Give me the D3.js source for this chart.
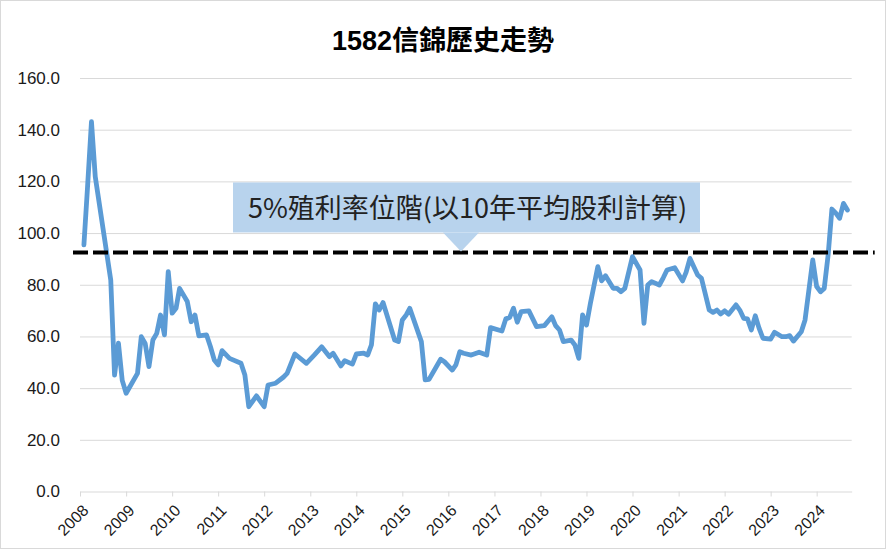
<!DOCTYPE html>
<html>
<head>
<meta charset="utf-8">
<script src="https://cdn.jsdelivr.net/npm/d3@7"></script>
<style>
  body { margin: 0; background: #fff; }
  svg { display: block; }
</style>
</head>
<body>
<svg id="chart" width="888" height="550"></svg>
<script>
// price history, month-level dates
const dates = [
  "2008-02","2008-03","2008-04","2008-05","2008-09","2008-10","2008-11","2008-12",
  "2009-01","2009-04","2009-05","2009-06","2009-07","2009-08","2009-09","2009-10","2009-11","2009-12",
  "2010-01","2010-02","2010-03","2010-05","2010-06","2010-07","2010-08","2010-10","2010-11","2010-12",
  "2011-01","2011-02","2011-04","2011-07","2011-08","2011-09","2011-11",
  "2012-01","2012-02","2012-04","2012-06","2012-07","2012-09","2012-12",
  "2013-02","2013-04","2013-06","2013-07","2013-09","2013-10","2013-12",
  "2014-01","2014-03","2014-04","2014-05","2014-06","2014-07","2014-08","2014-11","2014-12",
  "2015-01","2015-02","2015-03","2015-06","2015-07","2015-08","2015-11","2015-12",
  "2016-02","2016-03","2016-04","2016-05","2016-07","2016-09","2016-11","2016-12",
  "2017-03","2017-04","2017-05","2017-06","2017-07","2017-08","2017-10","2017-12",
  "2018-02","2018-04","2018-05","2018-06","2018-07","2018-09","2018-10","2018-11","2018-12",
  "2019-01","2019-02","2019-04","2019-05","2019-06","2019-08","2019-09","2019-10","2019-11",
  "2020-01","2020-03","2020-04","2020-05","2020-06","2020-08","2020-09","2020-10","2020-12",
  "2021-02","2021-03","2021-04","2021-06","2021-07","2021-09","2021-10","2021-11","2021-12",
  "2022-01","2022-02","2022-04","2022-05","2022-06","2022-07","2022-08","2022-09","2022-10","2022-11",
  "2023-01","2023-02","2023-04","2023-05","2023-06","2023-07","2023-09","2023-10","2023-12",
  "2024-01","2024-02","2024-03","2024-04","2024-05","2024-06","2024-07","2024-08","2024-09"
];
const prices = [
  95.4,118,143.1,121.8,81.8,45,57.4,43,
  38,45.7,59.9,57.3,48.3,58.6,61.2,68.3,60.6,85.1,
  69,70.9,78.6,73.5,65.7,68.3,60.2,60.6,56,50.9,
  49,54.5,51.5,49.6,45.1,32.8,37,
  32.8,41.2,41.9,44.2,45.7,53.2,49.6,
  52.8,56,52.2,53.5,48.6,50.6,49.3,
  53.2,53.5,52.8,56.7,72.6,70.2,73.1,58.6,58,
  66.4,68.3,70.9,58,43.2,43.4,51.2,50.2,
  47,49,54.1,53.5,52.8,53.9,52.8,63.4,
  62.1,66.8,67.3,70.9,65.5,69.6,69.9,63.8,
  64.2,67.6,64.2,62.5,58,58.6,56.7,51.5,68.3,
  64.4,72.8,87,81.5,83.5,78.6,78.6,77.3,78.6,
  90.9,85.7,65.1,79.9,81.2,79.9,82.7,85.7,86.6,
  81.5,84.8,90.2,83.8,82.5,70.2,69.3,70.2,68.7,
  69.9,68.6,72.2,70.2,67,66.8,62.5,68,63.2,59.3,
  59,61.6,59.9,59.9,60.3,58.2,61.8,66.4,89.6,
  79.3,77.3,78.6,91.5,109.3,107.7,105.7,111.5,108.9
];
const yTicks = [0, 20, 40, 60, 80, 100, 120, 140, 160];
const yieldLevel = 92.5;   // 5% yield price level
const title = "1582信錦歷史走勢";
const noteText = "5%殖利率位階(以10年平均股利計算)";

const parseMonth = d3.timeParse("%Y-%m");
const series = dates.map((d, i) => ({ date: parseMonth(d), value: prices[i] }));

const svg = d3.select("#chart");
const W = 888, H = 550;
const plotLeft = 80, plotRight = 851.7, plotTop = 78, plotBottom = 491.5;

const x = d3.scaleTime()
  .domain([new Date(2008, 0, 1), new Date(2024, 9, 5)])
  .range([plotLeft, plotRight]);
const y = d3.scaleLinear().domain([0, 160]).range([plotBottom, plotTop]);

const font = "'Liberation Sans', Arial, 'Noto Sans CJK TC', sans-serif";

// outer frame
svg.append("rect")
  .attr("x", 0.5).attr("y", 0.5)
  .attr("width", W - 3).attr("height", H - 2)
  .attr("fill", "#fff").attr("stroke", "#d9d9d9");

// title
svg.append("text")
  .attr("x", 443).attr("y", 50)
  .attr("text-anchor", "middle")
  .attr("font-family", font)
  .attr("font-weight", "bold")
  .attr("font-size", 27)
  .attr("fill", "#000")
  .text(title);

// gridlines
svg.append("g")
  .attr("transform", `translate(${plotLeft},0)`)
  .call(d3.axisLeft(y).tickValues(yTicks.slice(1)).tickSize(-(plotRight - plotLeft)).tickFormat(""))
  .call(g => g.select(".domain").remove())
  .call(g => g.selectAll("line").attr("stroke", "#d9d9d9"));

// y labels
svg.append("g")
  .attr("transform", `translate(${plotLeft},0)`)
  .call(d3.axisLeft(y).tickValues(yTicks).tickSize(0).tickPadding(20).tickFormat(d3.format(".1f")))
  .call(g => g.select(".domain").remove())
  .call(g => g.selectAll("text")
    .attr("font-family", font).attr("font-size", 17).attr("fill", "#1a1a1a"));

// x axis
const xAxis = svg.append("g")
  .attr("transform", `translate(0,${plotBottom})`)
  .call(d3.axisBottom(x).ticks(d3.timeYear.every(1)).tickFormat(d3.timeFormat("%Y")).tickSize(5).tickSizeOuter(0));
xAxis.select(".domain").attr("stroke", "#d9d9d9");
xAxis.selectAll("line").attr("stroke", "#d9d9d9");
xAxis.selectAll("text")
  .attr("font-family", font).attr("font-size", 16).attr("fill", "#1a1a1a")
  .attr("text-anchor", "end")
  .attr("x", 0).attr("y", 0).attr("dy", "0.35em")
  .attr("transform", "translate(5,16) rotate(-45)");

// price line
const line = d3.line().x(d => x(d.date)).y(d => y(d.value));
svg.append("path")
  .datum(series)
  .attr("d", line)
  .attr("fill", "none")
  .attr("stroke", "#5b9bd5")
  .attr("stroke-width", 4.8)
  .attr("stroke-linejoin", "round")
  .attr("stroke-linecap", "round");

// yield level dashed line
const yl = y(yieldLevel);
svg.append("line")
  .attr("x1", plotLeft - 7).attr("x2", plotRight + 23)
  .attr("y1", yl).attr("y2", yl)
  .attr("stroke", "#000")
  .attr("stroke-width", 4)
  .attr("stroke-dasharray", "15,5");

// callout box with arrow
const boxX = 233, boxW = 467, boxBottom = yl - 20, boxTop = boxBottom - 50;
const arrowX = 461;
svg.append("rect")
  .attr("x", boxX).attr("y", boxTop)
  .attr("width", boxW).attr("height", boxBottom - boxTop)
  .attr("fill", "#b8d3ed");
svg.append("path")
  .attr("d", `M${arrowX - 18},${boxBottom} L${arrowX + 18},${boxBottom} L${arrowX},${yl - 1} Z`)
  .attr("fill", "#b8d3ed");
svg.append("text")
  .attr("x", boxX + 15).attr("y", boxBottom - 14)
  .attr("font-family", "'Noto Sans CJK TC', sans-serif")
  .attr("font-size", 27)
  .attr("fill", "#222")
  .text(noteText);
</script>
</body>
</html>
